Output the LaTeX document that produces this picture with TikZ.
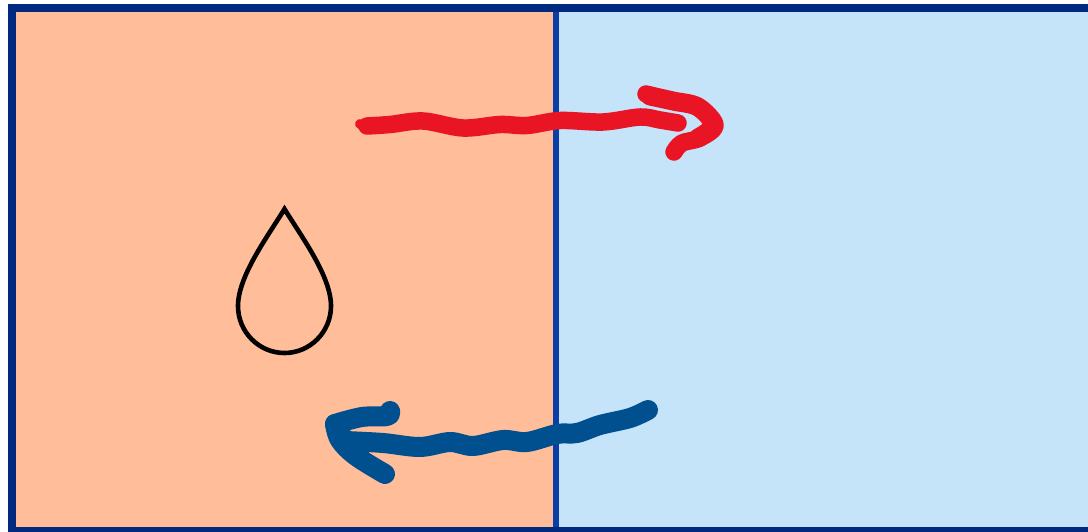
\documentclass[tikz,border=0pt]{standalone}
\definecolor{framenavy}{HTML}{002A80}
\definecolor{dividerblue}{HTML}{0B3FA6}
\definecolor{warmfill}{HTML}{FFBD99}
\definecolor{coolfill}{HTML}{C5E3F9}
\definecolor{hotred}{HTML}{E91424}
\definecolor{coldblue}{HTML}{004F8F}
\tikzset{
  hotstroke/.style={draw=hotred,line width=17.5pt,line cap=round,line join=round},
  coldstroke/.style={draw=coldblue,line width=20pt,line cap=round,line join=round},
}
\begin{document}
\begin{tikzpicture}[x=1pt,y=-1pt]
\useasboundingbox (0,0) rectangle (1088,532);
\fill[white] (0,0) rectangle (1088,532);
\fill[warmfill] (12,8) rectangle (556,529);
\fill[coolfill] (556,8) rectangle (1088,529);
\fill[dividerblue] (553,8) rectangle (559,529);
\fill[framenavy] (8,4) rectangle (1088,12);
\fill[framenavy] (8,4) rectangle (16,532);
\fill[framenavy] (8,527) rectangle (1088,531.5);
% drop
\draw[black,line width=4.6pt,miter limit=10]
  (284.5,209) .. controls (268,236) and (238,276) .. (238,306)
  .. controls (238,332) and (259,353) .. (284.5,353)
  .. controls (310,353) and (331,332) .. (331,306)
  .. controls (331,276) and (301,236) .. (284.5,209) -- cycle;
% red arrow
\draw[hotstroke,line width=10pt] (360,124) -- (366,126);
\draw[hotstroke] plot[smooth,tension=0.55] coordinates {(367,126) (390,124.5) (423,121) (463,128) (500,124.5) (527,125.5) (560,120.5) (603,122) (640,117) (660,120) (678,123)};
\draw[hotstroke] plot[smooth,tension=0.6] coordinates {(646,94) (673,101) (698,107) (715,125) (700,138) (682,143) (674,152)};
\draw[hotstroke,line width=19pt] plot[smooth,tension=0.6] coordinates {(650,96) (673,101) (698,107) (713,125) (698,138)};
% blue arrow
\draw[coldstroke] plot[smooth,tension=0.55] coordinates {(648,410) (630,418) (600,425) (577,433) (557,434) (527,442) (503,440) (473,446) (450,442) (420,447) (383,443) (345,441)};
\draw[coldstroke] plot[smooth,tension=0.6] coordinates {(390,411) (387,416) (362,417) (335,424)};
\draw[coldstroke] plot[smooth,tension=0.6] coordinates {(335,424) (340,440) (356,456) (385,474)};
\draw[coldstroke,line width=22pt] (342,438) -- (358,452);
\end{tikzpicture}
\end{document}
